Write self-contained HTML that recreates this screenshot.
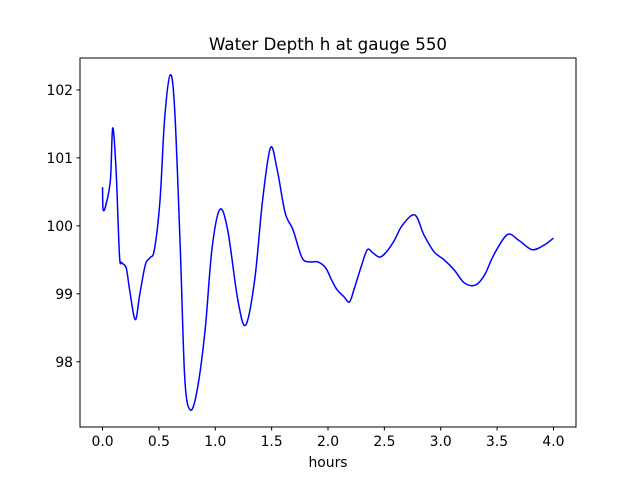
<!DOCTYPE html>
<html><head><meta charset="utf-8"><style>
body{margin:0;background:#fff;font-family:"DejaVu Sans","Liberation Sans",sans-serif}
</style></head><body>
<svg width="640" height="480" xmlns="http://www.w3.org/2000/svg" font-family="DejaVu Sans, Liberation Sans, sans-serif">
<rect width="640" height="480" fill="#fff"/>
<g id="plot"></g>
</svg>
<script>
const hours=[0,0.005,0.03,0.07,0.09,0.12,0.15,0.17,0.21,0.24,0.29,0.33,0.38,0.42,0.46,0.51,0.55,0.60,0.64,0.69,0.73,0.78,0.84,0.91,0.97,1.04,1.11,1.20,1.27,1.35,1.42,1.49,1.55,1.62,1.69,1.77,1.84,1.91,1.98,2.03,2.08,2.14,2.19,2.23,2.30,2.35,2.40,2.46,2.52,2.59,2.66,2.77,2.85,2.94,3.03,3.12,3.21,3.31,3.39,3.47,3.59,3.69,3.81,3.92,4.00];
const depth=[100.57,100.24,100.31,100.68,101.44,100.82,99.57,99.46,99.38,99.06,98.62,98.99,99.43,99.53,99.65,100.38,101.56,102.22,101.71,99.65,97.74,97.29,97.59,98.47,99.65,100.24,99.94,98.91,98.54,99.21,100.38,101.15,100.82,100.19,99.94,99.53,99.47,99.47,99.38,99.21,99.06,98.96,98.88,99.06,99.43,99.65,99.60,99.54,99.62,99.79,100.01,100.16,99.87,99.62,99.50,99.35,99.16,99.13,99.28,99.57,99.87,99.79,99.65,99.72,99.82];
const xTicks=[0,0.5,1,1.5,2,2.5,3,3.5,4];
const xTickLabels=["0.0","0.5","1.0","1.5","2.0","2.5","3.0","3.5","4.0"];
const yTicks=[98,99,100,101,102];
const L=80,R=576,T=58,B=427;
const xmin=-0.2,xmax=4.2,ymin=97.04,ymax=102.47;
const sx=v=>L+(v-xmin)/(xmax-xmin)*(R-L);
const sy=v=>B-(v-ymin)/(ymax-ymin)*(B-T);
const g=document.getElementById('plot');
const NS="http://www.w3.org/2000/svg";
function mk(t,a,txt){const e=document.createElementNS(NS,t);for(const k in a)e.setAttribute(k,a[k]);if(txt!==undefined)e.textContent=txt;g.appendChild(e);return e;}
const P=hours.map((h,i)=>[sx(h),sy(depth[i])]);
let d=`M${P[0][0]},${P[0][1]}`;
for(let i=0;i<P.length-1;i++){const p0=P[Math.max(0,i-1)],p1=P[i],p2=P[i+1],p3=P[Math.min(P.length-1,i+2)];
d+=` C${p1[0]+(p2[0]-p0[0])/6},${p1[1]+(p2[1]-p0[1])/6} ${p2[0]-(p3[0]-p1[0])/6},${p2[1]-(p3[1]-p1[1])/6} ${p2[0]},${p2[1]}`;}
let ln=mk('path',{d:d,fill:'none',stroke:'#0000ff','stroke-width':1.5});


let fr=mk('rect',{x:L,y:T,width:R-L,height:B-T,fill:'none',stroke:'#000','stroke-width':1});


xTicks.forEach((v,i)=>{const x=sx(v);
mk('line',{x1:x,x2:x,y1:B,y2:B+3.5,stroke:'#000'});
let t=mk('text',{x:x,y:B+19,'font-size':13.9,'text-anchor':'middle'},xTickLabels[i]);

});
yTicks.forEach(v=>{const y=sy(v);
mk('line',{x1:L-3.5,x2:L,y1:y,y2:y,stroke:'#000'});
let t=mk('text',{x:L-7,y:y+5,'font-size':13.9,'text-anchor':'end'},String(v));

});
let ti=mk('text',{x:(L+R)/2,y:50,'font-size':16.7,'text-anchor':'middle'},'Water Depth h at gauge 550');


let xl=mk('text',{x:(L+R)/2,y:467,'font-size':13.9,'text-anchor':'middle'},'hours');


</script>
</body></html>
